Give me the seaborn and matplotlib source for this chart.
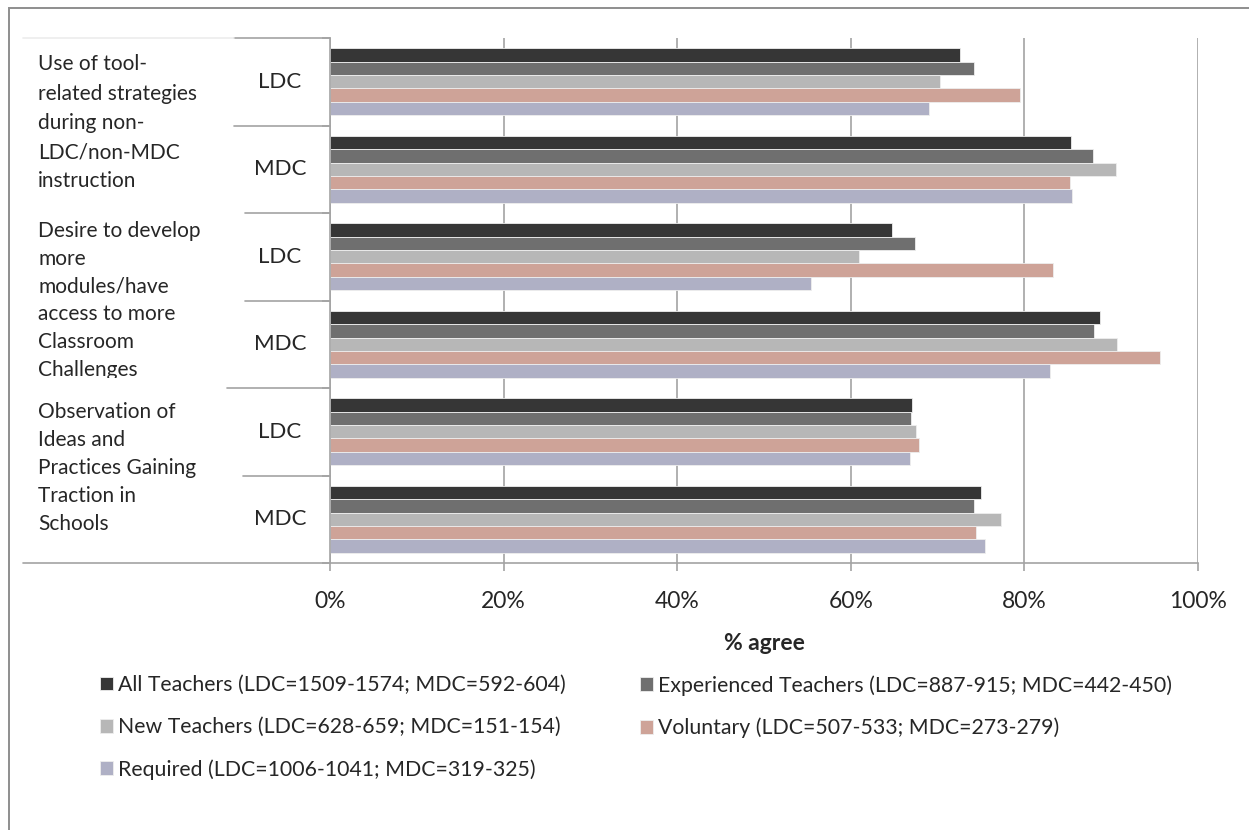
import matplotlib
matplotlib.use("Agg")
import matplotlib.pyplot as plt
import matplotlib.transforms as mtransforms
from matplotlib.lines import Line2D
from matplotlib.patches import Rectangle
from matplotlib.ticker import PercentFormatter
import numpy as np
import pandas as pd
import seaborn as sns

# data (% agree)
categories = [
    "Use of tool-\nrelated strategies\nduring non-\nLDC/non-MDC\ninstruction",
    "Desire to develop\nmore\nmodules/have\naccess to more\nClassroom\nChallenges",
    "Observation of\nIdeas and\nPractices Gaining\nTraction in\nSchools",
]
levels = ["LDC", "MDC"]
series = [
    "All Teachers (LDC=1509-1574; MDC=592-604)",
    "Experienced Teachers (LDC=887-915; MDC=442-450)",
    "New Teachers (LDC=628-659; MDC=151-154)",
    "Voluntary (LDC=507-533; MDC=273-279)",
    "Required (LDC=1006-1041; MDC=319-325)",
]
# order of values: tool LDC, tool MDC, desire LDC, desire MDC, observation LDC, observation MDC
all_teachers = [72.6, 85.4, 64.8, 88.7, 67.0, 75.0]
experienced = [74.2, 87.9, 67.4, 88.0, 66.9, 74.2]
new_teachers = [70.3, 90.6, 61.0, 90.7, 67.5, 77.3]
voluntary = [79.5, 85.3, 83.3, 95.6, 67.9, 74.4]
required = [69.0, 85.5, 55.4, 82.9, 66.8, 75.5]
colors = ["#363636", "#6f6f6f", "#b7b7b7", "#d79d8f", "#abadc9"]
x_ticks = [0, 20, 40, 60, 80, 100]

row_keys = [f"{i}-{lvl}" for i in range(len(categories)) for lvl in levels]
values = [all_teachers, experienced, new_teachers, voluntary, required]
df = pd.DataFrame(
    [(row, s, v) for s, vals in zip(series, values) for row, v in zip(row_keys, vals)],
    columns=["row", "series", "pct"],
)

sns.set_theme(style="white")
plt.rcParams["font.family"] = ["Lato", "DejaVu Sans"]

W, H = 1249, 830
fig = plt.figure(figsize=(W / 100, H / 100), dpi=100)
ax = fig.add_axes([330 / W, 1 - 563 / H, 868 / W, 525 / H])

sns.barplot(data=df, x="pct", y="row", hue="series", hue_order=series, order=row_keys,
            palette=colors, orient="h", width=0.77, errorbar=None,
            edgecolor="#eeeeee", linewidth=0.6, ax=ax)
ax.get_legend().remove()

grey = "#a3a3a3"
ax.set_xlim(0, 100)
ax.set_ylim(len(row_keys) - 0.5, -0.5)
ax.set_xticks(x_ticks)
ax.xaxis.set_major_formatter(PercentFormatter(xmax=100, decimals=0))
ax.set_yticks([])
ax.set_yticks(np.arange(-0.5, len(row_keys)), minor=True)
ax.tick_params(axis="y", which="minor", length=6, width=1.2, color=grey, left=True)
ax.tick_params(axis="x", length=6, width=1.2, color=grey, bottom=True, pad=14, labelsize=16.5)
ax.grid(axis="x", color=grey, linewidth=1.2)
ax.set_axisbelow(True)
ax.set_ylabel("")
ax.set_xlabel("% agree", fontsize=16.5, fontweight="bold", labelpad=15)
for side in ["top", "right"]:
    ax.spines[side].set_visible(False)
for side in ["left", "bottom"]:
    ax.spines[side].set_color(grey)
    ax.spines[side].set_linewidth(1.2)

# multi-level category labels
trans = mtransforms.blended_transform_factory(ax.transAxes, ax.transData)
label_shift = [-0.03, 0.0, -0.085]
label_spacing = [1.58, 1.49, 1.49]
for i, cat in enumerate(categories):
    ax.text(-0.3364, 2 * i + 0.5 + label_shift[i], cat, transform=trans, ha="left",
            va="center", fontsize=15, linespacing=label_spacing[i], clip_on=False)
for j, key in enumerate(row_keys):
    ax.text(-0.0575, j, key.split("-")[1], transform=trans, ha="center", va="center",
            fontsize=16, clip_on=False)
# the label cell cuts off the bottom of the last line of the second category
ax.add_patch(Rectangle((-0.35, 3.385), 0.23, 0.105, transform=trans, facecolor="white",
                       edgecolor="none", clip_on=False, zorder=5))

# separator lines of the label area
line_starts = [-0.111, -0.098, -0.098, -0.119, -0.100, -0.354]
for b, x0 in zip(np.arange(0.5, len(row_keys) + 0.5), line_starts):
    ax.add_line(Line2D([x0, 0], [b, b], transform=trans, color=grey, lw=1.2, clip_on=False))
ax.add_line(Line2D([-0.111, 0], [-0.5, -0.5], transform=trans, color=grey, lw=1.2, clip_on=False))
ax.add_line(Line2D([-0.354, -0.111], [-0.5, -0.5], transform=trans, color="#ececec", lw=1.2,
                   clip_on=False))

# legend in two columns
handles, labels = ax.get_legend_handles_labels()
common = dict(loc="upper left", frameon=False, fontsize=15.3, handlelength=0.62,
              handleheight=0.62, handletextpad=0.25, labelspacing=1.04, borderpad=0,
              borderaxespad=0)
leg1 = fig.legend([handles[0], handles[2], handles[4]], [labels[0], labels[2], labels[4]],
                  bbox_to_anchor=(100 / W, 1 - 675 / H), **common)
leg2 = fig.legend([handles[1], handles[3]], [labels[1], labels[3]],
                  bbox_to_anchor=(640 / W, 1 - 675 / H), **common)

# outer frame of the chart area (cut by the image edges)
fig.patches.append(Rectangle((9 / W, -0.05), 1.2, 1 - 8 / H + 0.05, transform=fig.transFigure,
                             fill=False, edgecolor="#8e8e8e", linewidth=1.4))

fig.savefig("out.png", dpi=100)
